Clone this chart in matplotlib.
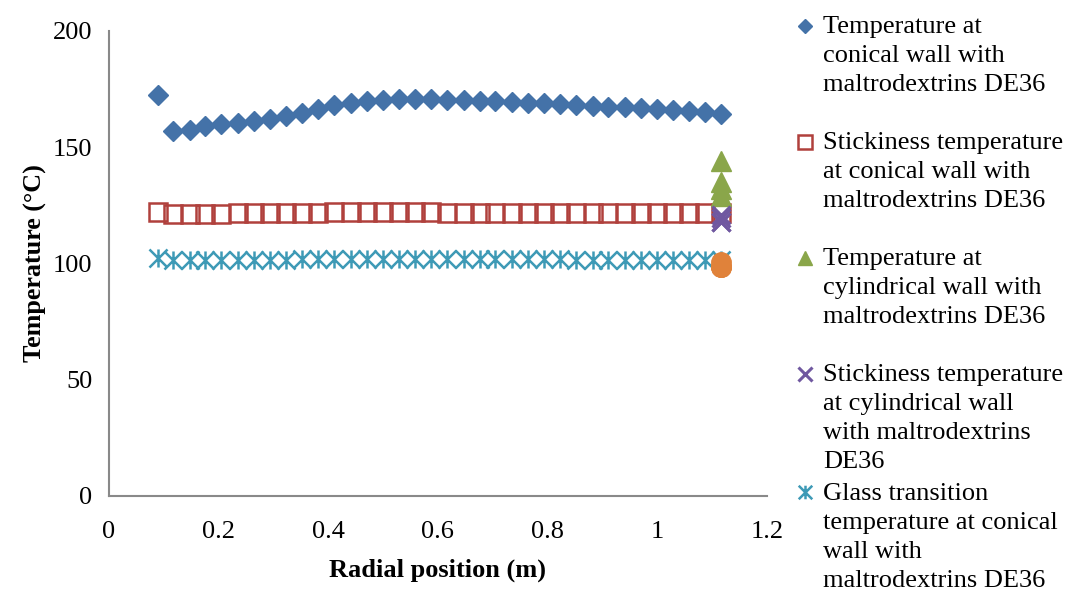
import matplotlib
matplotlib.use("Agg")
import matplotlib.pyplot as plt
from matplotlib.path import Path

plt.rcParams['font.family'] = ['Liberation Serif', 'DejaVu Serif']

# radial positions along the conical wall (m)
radial = [0.089, 0.117, 0.147, 0.176, 0.205, 0.235, 0.264, 0.294, 0.323, 0.352,
          0.382, 0.411, 0.441, 0.470, 0.499, 0.529, 0.558, 0.588, 0.617, 0.647,
          0.676, 0.705, 0.735, 0.764, 0.794, 0.823, 0.852, 0.882, 0.911, 0.941,
          0.970, 0.999, 1.029, 1.058, 1.088, 1.117]

temp_conical = [172.5, 156.8, 157.5, 159.0, 160.2, 160.5, 161.2, 162.3, 163.4, 164.8,
                166.5, 168.2, 169.2, 170.0, 170.5, 170.7, 170.7, 170.6, 170.4, 170.2,
                170.0, 169.7, 169.4, 169.2, 168.9, 168.5, 168.2, 167.7, 167.4, 167.1,
                166.9, 166.5, 166.0, 165.6, 165.0, 164.3]

stick_conical = [122.0, 121.2, 121.2, 121.3, 121.4, 121.5, 121.6, 121.7, 121.8, 121.9,
                 121.9, 122.0, 122.0, 122.0, 122.0, 122.0, 122.0, 122.0, 121.9, 121.9,
                 121.9, 121.9, 121.8, 121.8, 121.8, 121.8, 121.7, 121.7, 121.7, 121.7,
                 121.6, 121.6, 121.6, 121.6, 121.6, 121.6]

glass_conical = [102.2, 101.3, 101.3, 101.4, 101.4, 101.5, 101.5, 101.6, 101.6, 101.7,
                 101.7, 101.7, 101.8, 101.8, 101.8, 101.8, 101.8, 101.8, 101.8, 101.8,
                 101.8, 101.7, 101.7, 101.7, 101.7, 101.7, 101.6, 101.6, 101.6, 101.6,
                 101.6, 101.5, 101.5, 101.5, 101.5, 101.5]

# cylindrical wall values, all at the last radial position
cyl_x = [1.117, 1.117, 1.117, 1.117]
temp_cyl = [144.0, 135.0, 132.0, 129.0]
stick_cyl = [121.0, 119.5, 118.0, 118.0]
glass_cyl = [100.5, 98.5, 98.5, 98.5]

labels = ["Temperature at\nconical wall with\nmaltrodextrins DE36",
          "Stickiness temperature\nat conical wall with\nmaltrodextrins DE36",
          "Temperature at\ncylindrical wall with\nmaltrodextrins DE36",
          "Stickiness temperature\nat cylindrical wall\nwith maltrodextrins\nDE36",
          "Glass transition\ntemperature at conical\nwall with\nmaltrodextrins DE36"]

# excel style asterisk: x with a vertical bar
star = Path([(-1, -1), (1, 1), (-1, 1), (1, -1), (0, -1), (0, 1)],
            [Path.MOVETO, Path.LINETO, Path.MOVETO, Path.LINETO, Path.MOVETO, Path.LINETO])

fig = plt.figure(figsize=(10.74, 5.96), dpi=100)
ax = fig.add_axes([0.1015, 0.168, 0.6125, 0.78])

h1, = ax.plot(radial, temp_conical, ls='none', marker='D', ms=10, color='#4472a8')
h2, = ax.plot(radial, stick_conical, ls='none', marker='s', ms=12.5, mfc='none',
              mec='#b0403c', mew=1.8)
h3, = ax.plot(cyl_x, temp_cyl, ls='none', marker='^', ms=14, color='#8aa64a')
h4, = ax.plot(cyl_x, stick_cyl, ls='none', marker='x', ms=12.5, mew=2.2, color='#7058a0')
h5, = ax.plot(radial, glass_conical, ls='none', marker=star, ms=13, mfc='none',
              mec='#3e9ab6', mew=1.8)
ax.plot(cyl_x, glass_cyl, ls='none', marker='o', ms=14, color='#e0823a')

ax.set_xlim(0, 1.2)
ax.set_ylim(0, 200)
ax.set_xticks([0, 0.2, 0.4, 0.6, 0.8, 1, 1.2])
ax.set_xticklabels(['0', '0.2', '0.4', '0.6', '0.8', '1', '1.2'])
ax.set_yticks([0, 50, 100, 150, 200])
ax.tick_params(axis='both', length=0, labelsize=19)
ax.tick_params(axis='y', pad=12)
ax.tick_params(axis='x', pad=18)

for side in ['top', 'right']:
    ax.spines[side].set_visible(False)
for side in ['left', 'bottom']:
    ax.spines[side].set_color('#898989')
    ax.spines[side].set_linewidth(1.5)

ax.set_xlabel('Radial position (m)', fontsize=19, fontweight='bold', labelpad=11)
ax.set_ylabel('Temperature (°C)', fontsize=18.8, fontweight='bold', labelpad=4)

leg_kw = dict(loc='upper left', frameon=False, fontsize=19, handlelength=0.9,
              handletextpad=0.25, borderpad=0, markerscale=0.75, handleheight=0.8)
leg1 = fig.legend([h1, h2, h3, h4], labels[:4], bbox_to_anchor=(0.726, 0.995),
                  labelspacing=1.35, **leg_kw)
leg2 = fig.legend([h5], labels[4:], bbox_to_anchor=(0.726, 0.212), **leg_kw)

for leg in [leg1, leg2]:
    for t in leg.get_texts():
        t.set_linespacing(1.42)
    # put the marker next to the first line of each entry, as Excel does
    for col in leg._legend_handle_box.get_children():
        for item in col.get_children():
            item.align = 'top'

fig.savefig('out.png', dpi=100)
